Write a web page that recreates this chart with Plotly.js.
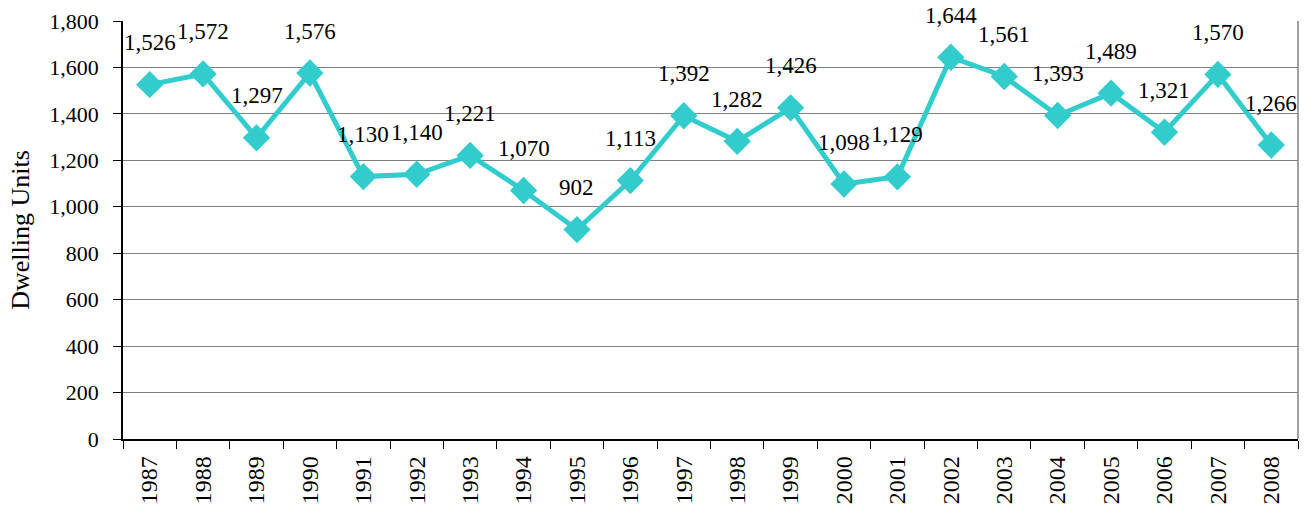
<!DOCTYPE html>
<html>
<head>
<meta charset="utf-8">
<script src="https://cdn.plot.ly/plotly-3.0.1.min.js"></script>
<style>html,body{margin:0;padding:0;background:#fff;}#chart{width:1306px;height:509px;}</style>
</head>
<body>
<div id="chart"></div>
<script>
const years = ["1987","1988","1989","1990","1991","1992","1993","1994","1995","1996","1997","1998","1999","2000","2001","2002","2003","2004","2005","2006","2007","2008"];
const units = [1526,1572,1297,1576,1130,1140,1221,1070,902,1113,1392,1282,1426,1098,1129,1644,1561,1393,1489,1321,1570,1266];
const yTicks = [0,200,400,600,800,1000,1200,1400,1600,1800];

function fnt(s) { return {family: "Liberation Serif", size: s, color: "#000000"}; }

function fmt(v) { return String(v).replace(/\B(?=(\d{3})+(?!\d))/g, ","); }

const trace = {
  x: years, y: units, type: "scatter", mode: "lines+markers",
  line: {color: "#33CCCC", width: 5},
  marker: {symbol: "diamond", size: 21, color: "#33CCCC"},
  hoverinfo: "none"
};

const annotations = units.map(function (v, i) {
  return {
    x: i, y: v, xref: "x", yref: "y",
    text: fmt(v),
    showarrow: false, yshift: 42, yanchor: "middle", xanchor: "center",
    font: fnt(23)
  };
});

const layout = {
  width: 1306, height: 509,
  margin: {l: 123, r: 8, t: 21, b: 70},
  paper_bgcolor: "#ffffff", plot_bgcolor: "#ffffff",
  showlegend: false,
  font: fnt(22),
  xaxis: {
    type: "category", categoryorder: "array", categoryarray: years,
    tickangle: -90, tickson: "boundaries",
    ticks: "outside", ticklen: 8, tickcolor: "#000000", tickwidth: 1,
    showline: true, linecolor: "#000000", linewidth: 1.5,
    showgrid: false, tickfont: fnt(24), ticklabelstandoff: 6,
    range: [-0.5, 21.5], autorange: false
  },
  yaxis: {
    range: [0, 1800], autorange: false, tickvals: yTicks, tickformat: ",d",
    ticks: "outside", ticklen: 8, tickcolor: "#000000",
    showline: true, linecolor: "#000000", linewidth: 1.5,
    showgrid: true, gridcolor: "#808080", gridwidth: 1,
    zeroline: false, tickfont: fnt(22), ticklabelstandoff: 10,
    title: {text: "Dwelling Units", font: fnt(26), standoff: 12}
  },
  shapes: [{type: "line", xref: "paper", yref: "paper", x0: 1, x1: 1, y0: 0, y1: 1,
            line: {color: "#808080", width: 1.5}}],
  annotations: annotations
};

Plotly.newPlot("chart", [trace], layout, {displayModeBar: false});
</script>
</body>
</html>
